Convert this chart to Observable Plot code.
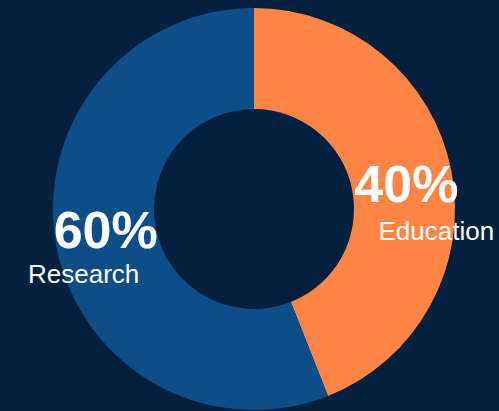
<!DOCTYPE html>
<html>
<head>
<meta charset="utf-8">
<script src="https://cdn.jsdelivr.net/npm/d3@7"></script>
<script src="https://cdn.jsdelivr.net/npm/@observablehq/plot@0.6"></script>
<style>
  html, body { margin: 0; padding: 0; background: #03203F; }
  #chart { width: 499px; height: 411px; overflow: hidden; }
</style>
</head>
<body>
<div id="chart"></div>
<script>
// Data
const categories = ["Education", "Research"];
const shares = [44, 56];          // slice sizes as drawn (orange slice spans ~159°)
const labels = ["40%", "60%"];    // printed labels
const colors = ["#FF8547", "#0D4E89"];

const W = 499, H = 411;
const R = 201, r = 100;            // outer / inner radius in chart units

const rows = categories.map((c, i) => ({category: c, share: shares[i], label: labels[i], color: colors[i]}));
const pie = d3.pie().value(d => d.share).sort(null);
const arcs = pie(rows);
const mid = d3.arc().innerRadius(r).outerRadius(R);
arcs.forEach(a => {
  const [cx, cy] = mid.centroid(a);
  a.data.cx = cx;
  a.data.cy = -cy;   // y up in data units
});

// custom donut mark using Plot's scales
function donut(index, scales) {
  const x0 = scales.x(0), y0 = scales.y(0);
  const k = scales.x(1) - scales.x(0);
  const arcGen = d3.arc().innerRadius(r * k).outerRadius(R * k);
  const g = d3.create("svg:g").attr("transform", `translate(${x0},${y0})`);
  g.selectAll("path").data(arcs).join("path")
    .attr("d", arcGen)
    .attr("fill", d => d.data.color);
  return g.node();
}

const font = "'Liberation Sans', Arial, Helvetica, sans-serif";
const pctOpts = {x: "cx", y: "cy", text: "label", fill: "white", fontSize: 52, fontWeight: "bold",
  fontFamily: font, textAnchor: "middle", lineAnchor: "bottom"};
const catOpts = {x: "cx", y: "cy", text: "category", fill: "white", fontSize: 26,
  fontFamily: font, textAnchor: "middle", lineAnchor: "bottom"};

const plot = Plot.plot({
  width: W,
  height: H,
  margin: 0,
  x: {domain: [-254, W - 254], range: [0, W], axis: null},
  y: {domain: [209, 209 - H], range: [0, H], axis: null},
  style: {background: "#03203F", fontFamily: font},
  marks: [
    donut,
    Plot.text([rows[0]], {...pctOpts, dx: 4, dy: 21}),
    Plot.text([rows[0]], {...catOpts, dx: 34, dy: 59}),
    Plot.text([rows[1]], {...pctOpts, dx: -1, dy: 10}),
    Plot.text([rows[1]], {...catOpts, dx: -23, dy: 45})
  ]
});
document.getElementById("chart").appendChild(plot);
</script>
</body>
</html>
